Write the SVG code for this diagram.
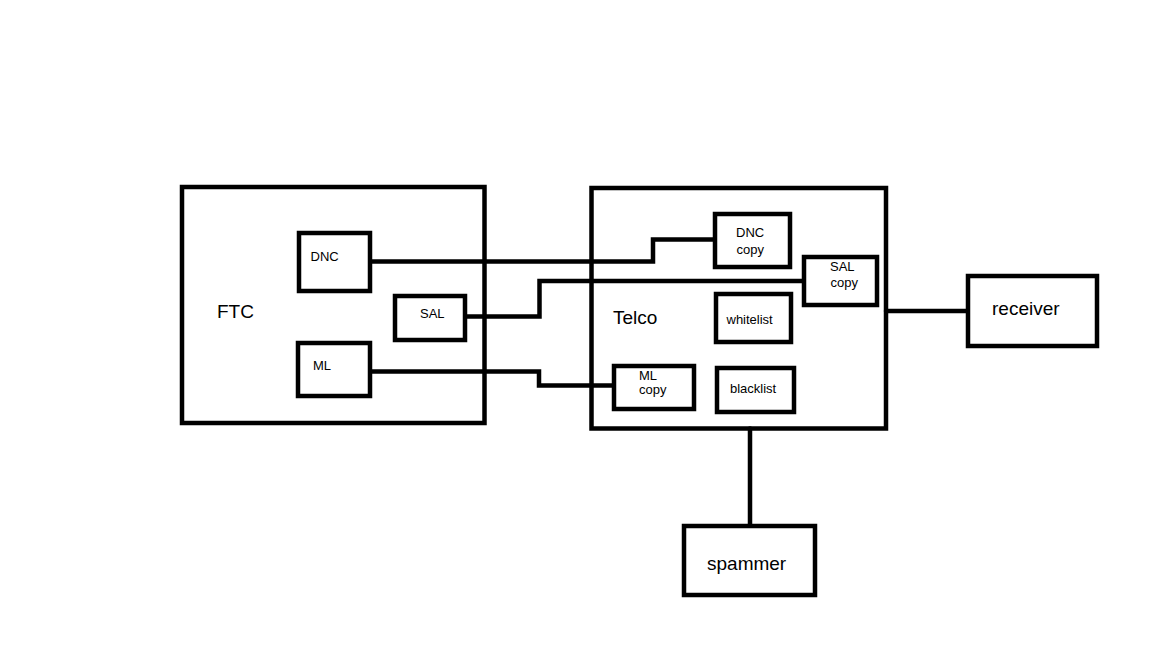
<svg xmlns="http://www.w3.org/2000/svg" width="1152" height="648" viewBox="0 0 1152 648">
<style>
.box{fill:#fff;stroke:#000;stroke-width:4.5}
.ln{fill:none;stroke:#000;stroke-width:4.5;stroke-linecap:round}
.big{font-family:"Liberation Sans",Arial,sans-serif;font-size:19px;fill:#000}
.sm{font-family:"Liberation Sans",Arial,sans-serif;font-size:13px;fill:#000}
</style>
<rect width="1152" height="648" fill="#fff"/>
<g id="FTC">
<rect class="box" x="182" y="187" width="302.5" height="236"/>
<text class="big" x="217" y="318">FTC</text>
</g>
<g id="Telco">
<rect class="box" x="591.5" y="188" width="294.5" height="240.5"/>
<text class="big" x="613" y="323.5">Telco</text>
</g>
<g id="connectors">
<polyline class="ln" points="370,261.5 653,261.5 653,239.5 715,239.5"/>
<polyline class="ln" points="465,316.5 539.5,316.5 539.5,281 804,281"/>
<polyline class="ln" points="370,371.5 539,371.5 539,385.5 614,385.5"/>
<line class="ln" x1="886" y1="311" x2="968" y2="311"/>
<line class="ln" x1="750" y1="428.5" x2="750" y2="526"/>
</g>
<g id="DNC">
<rect class="box" x="299" y="233" width="71" height="58"/>
<text class="sm" x="310.5" y="261">DNC</text>
</g>
<g id="SAL">
<rect class="box" x="395" y="296" width="70" height="44"/>
<text class="sm" x="420" y="318">SAL</text>
</g>
<g id="ML">
<rect class="box" x="298" y="343" width="72" height="53"/>
<text class="sm" x="313" y="370">ML</text>
</g>
<g id="DNC_copy">
<rect class="box" x="715" y="214" width="75" height="53"/>
<text class="sm" x="736" y="237">DNC</text>
<text class="sm" x="736.5" y="253.5">copy</text>
</g>
<g id="SAL_copy">
<rect class="box" x="804" y="257" width="73" height="48"/>
<text class="sm" x="830" y="271">SAL</text>
<text class="sm" x="830.5" y="286.5">copy</text>
</g>
<g id="whitelist">
<rect class="box" x="716" y="294" width="75" height="48"/>
<text class="sm" x="726.5" y="323.5">whitelist</text>
</g>
<g id="ML_copy">
<rect class="box" x="614" y="366" width="80" height="43"/>
<text class="sm" x="639" y="379.5">ML</text>
<text class="sm" x="639" y="394">copy</text>
</g>
<g id="blacklist">
<rect class="box" x="717" y="368" width="77" height="44"/>
<text class="sm" x="730" y="392.5">blacklist</text>
</g>
<g id="receiver">
<rect class="box" x="968" y="276" width="129" height="70"/>
<text class="big" x="992" y="315">receiver</text>
</g>
<g id="spammer">
<rect class="box" x="684" y="526" width="131" height="69"/>
<text class="big" x="707" y="569.5">spammer</text>
</g>
</svg>
